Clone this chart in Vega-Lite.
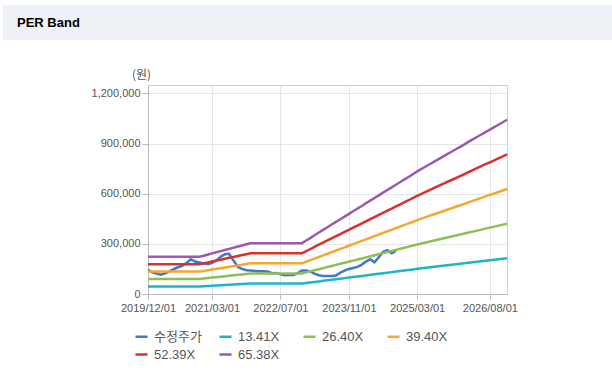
{
  "$schema": "https://vega.github.io/schema/vega-lite/v6.json",
  "padding": {"left": 3, "top": 5, "right": 0, "bottom": 0},
  "background": "white",
  "spacing": 27,
  "bounds": "full",
  "vconcat": [
    {
      "width": 609,
      "height": 35,
      "view": {"fill": "#eef1f6", "stroke": null},
      "data": {"values": [{"t": "PER Band"}]},
      "mark": {"type": "text", "align": "left", "baseline": "middle", "dx": 14, "font": "Liberation Sans", "fontSize": 13, "fontWeight": "bold", "color": "#000000"},
      "encoding": {
        "text": {"field": "t", "type": "nominal"},
        "x": {"datum": 0, "type": "quantitative", "scale": {"domain": [0, 1]}, "axis": null}
      }
    },
    {
      "spacing": 0,
      "bounds": "flush",
      "hconcat": [
        {
          "width": 145,
          "height": 1,
          "view": {"stroke": null},
          "data": {"values": []},
          "mark": "point"
        },
        {
          "width": 359,
          "height": 209,
          "view": {"stroke": "#cccccc"},
          "data": {"values": [
            {"d": "2019-12-01", "수정주가": 144000, "13_41X": 45600, "26_40X": 89800, "39_40X": 134000, "52_39X": 178100, "65_38X": 222300},
            {"d": "2020-01-01", "수정주가": 130000, "13_41X": 45600, "26_40X": 89800, "39_40X": 134000, "52_39X": 178100, "65_38X": 222300},
            {"d": "2020-02-01", "수정주가": 122000, "13_41X": 45600, "26_40X": 89800, "39_40X": 134000, "52_39X": 178100, "65_38X": 222300},
            {"d": "2020-03-01", "수정주가": 116000, "13_41X": 45600, "26_40X": 89800, "39_40X": 134000, "52_39X": 178100, "65_38X": 222300},
            {"d": "2020-04-01", "수정주가": 124000, "13_41X": 45600, "26_40X": 89800, "39_40X": 134000, "52_39X": 178100, "65_38X": 222300},
            {"d": "2020-05-01", "수정주가": 136000, "13_41X": 45600, "26_40X": 89800, "39_40X": 134000, "52_39X": 178100, "65_38X": 222300},
            {"d": "2020-06-01", "수정주가": 148000, "13_41X": 45600, "26_40X": 89800, "39_40X": 134000, "52_39X": 178100, "65_38X": 222300},
            {"d": "2020-07-01", "수정주가": 160000, "13_41X": 45600, "26_40X": 89800, "39_40X": 134000, "52_39X": 178100, "65_38X": 222300},
            {"d": "2020-08-01", "수정주가": 168000, "13_41X": 45600, "26_40X": 89800, "39_40X": 134000, "52_39X": 178100, "65_38X": 222300},
            {"d": "2020-09-01", "수정주가": 186000, "13_41X": 45600, "26_40X": 89800, "39_40X": 134000, "52_39X": 178100, "65_38X": 222300},
            {"d": "2020-10-01", "수정주가": 208000, "13_41X": 45600, "26_40X": 89800, "39_40X": 134000, "52_39X": 178100, "65_38X": 222300},
            {"d": "2020-11-01", "수정주가": 194000, "13_41X": 45600, "26_40X": 89800, "39_40X": 134000, "52_39X": 178100, "65_38X": 222300},
            {"d": "2020-12-01", "수정주가": 188000, "13_41X": 45600, "26_40X": 89800, "39_40X": 134000, "52_39X": 178100, "65_38X": 222300},
            {"d": "2021-01-01", "수정주가": 182000, "13_41X": 47000, "26_40X": 92500, "39_40X": 138100, "52_39X": 183600, "65_38X": 229100},
            {"d": "2021-02-01", "수정주가": 178000, "13_41X": 48400, "26_40X": 95300, "39_40X": 142200, "52_39X": 189000, "65_38X": 235900},
            {"d": "2021-03-01", "수정주가": 186000, "13_41X": 49800, "26_40X": 98000, "39_40X": 146300, "52_39X": 194500, "65_38X": 242800},
            {"d": "2021-04-01", "수정주가": 200000, "13_41X": 51200, "26_40X": 100800, "39_40X": 150400, "52_39X": 200000, "65_38X": 249600},
            {"d": "2021-05-01", "수정주가": 222000, "13_41X": 52600, "26_40X": 103500, "39_40X": 154500, "52_39X": 205400, "65_38X": 256400},
            {"d": "2021-06-01", "수정주가": 238000, "13_41X": 54000, "26_40X": 106300, "39_40X": 158600, "52_39X": 210900, "65_38X": 263200},
            {"d": "2021-07-01", "수정주가": 240000, "13_41X": 55400, "26_40X": 109000, "39_40X": 162700, "52_39X": 216300, "65_38X": 270000},
            {"d": "2021-08-01", "수정주가": 200000, "13_41X": 56800, "26_40X": 111800, "39_40X": 166800, "52_39X": 221800, "65_38X": 276800},
            {"d": "2021-09-01", "수정주가": 162000, "13_41X": 58200, "26_40X": 114500, "39_40X": 170900, "52_39X": 227300, "65_38X": 283600},
            {"d": "2021-10-01", "수정주가": 150000, "13_41X": 59600, "26_40X": 117300, "39_40X": 175000, "52_39X": 232700, "65_38X": 290400},
            {"d": "2021-11-01", "수정주가": 142000, "13_41X": 61000, "26_40X": 120000, "39_40X": 179100, "52_39X": 238200, "65_38X": 297200},
            {"d": "2021-12-01", "수정주가": 140000, "13_41X": 62400, "26_40X": 122800, "39_40X": 183200, "52_39X": 243600, "65_38X": 304000},
            {"d": "2022-01-01", "수정주가": 138000, "13_41X": 62400, "26_40X": 122800, "39_40X": 183200, "52_39X": 243600, "65_38X": 304000},
            {"d": "2022-02-01", "수정주가": 136000, "13_41X": 62400, "26_40X": 122800, "39_40X": 183200, "52_39X": 243600, "65_38X": 304000},
            {"d": "2022-03-01", "수정주가": 136000, "13_41X": 62400, "26_40X": 122800, "39_40X": 183200, "52_39X": 243600, "65_38X": 304000},
            {"d": "2022-04-01", "수정주가": 134000, "13_41X": 62400, "26_40X": 122800, "39_40X": 183200, "52_39X": 243600, "65_38X": 304000},
            {"d": "2022-05-01", "수정주가": 124000, "13_41X": 62400, "26_40X": 122800, "39_40X": 183200, "52_39X": 243600, "65_38X": 304000},
            {"d": "2022-06-01", "수정주가": 126000, "13_41X": 62400, "26_40X": 122800, "39_40X": 183200, "52_39X": 243600, "65_38X": 304000},
            {"d": "2022-07-01", "수정주가": 118000, "13_41X": 62400, "26_40X": 122800, "39_40X": 183200, "52_39X": 243600, "65_38X": 304000},
            {"d": "2022-08-01", "수정주가": 112000, "13_41X": 62400, "26_40X": 122800, "39_40X": 183200, "52_39X": 243600, "65_38X": 304000},
            {"d": "2022-09-01", "수정주가": 114000, "13_41X": 62400, "26_40X": 122800, "39_40X": 183200, "52_39X": 243600, "65_38X": 304000},
            {"d": "2022-10-01", "수정주가": 114000, "13_41X": 62400, "26_40X": 122800, "39_40X": 183200, "52_39X": 243600, "65_38X": 304000},
            {"d": "2022-11-01", "수정주가": 124000, "13_41X": 62400, "26_40X": 122800, "39_40X": 183200, "52_39X": 243600, "65_38X": 304000},
            {"d": "2022-12-01", "수정주가": 140000, "13_41X": 62400, "26_40X": 122800, "39_40X": 183200, "52_39X": 243600, "65_38X": 304000},
            {"d": "2023-01-01", "수정주가": 140000, "13_41X": 65600, "26_40X": 129200, "39_40X": 192800, "52_39X": 256300, "65_38X": 319900},
            {"d": "2023-02-01", "수정주가": 134000, "13_41X": 68900, "26_40X": 135600, "39_40X": 202400, "52_39X": 269100, "65_38X": 335800},
            {"d": "2023-03-01", "수정주가": 122000, "13_41X": 72100, "26_40X": 142000, "39_40X": 212000, "52_39X": 281900, "65_38X": 351700},
            {"d": "2023-04-01", "수정주가": 112000, "13_41X": 75400, "26_40X": 148400, "39_40X": 221500, "52_39X": 294600, "65_38X": 367600},
            {"d": "2023-05-01", "수정주가": 108000, "13_41X": 78700, "26_40X": 154900, "39_40X": 231100, "52_39X": 307300, "65_38X": 383500},
            {"d": "2023-06-01", "수정주가": 108000, "13_41X": 81900, "26_40X": 161300, "39_40X": 240700, "52_39X": 320100, "65_38X": 399400},
            {"d": "2023-07-01", "수정주가": 108000, "13_41X": 85200, "26_40X": 167700, "39_40X": 250300, "52_39X": 332800, "65_38X": 415300},
            {"d": "2023-08-01", "수정주가": 110000, "13_41X": 88500, "26_40X": 174100, "39_40X": 259900, "52_39X": 345600, "65_38X": 431200},
            {"d": "2023-09-01", "수정주가": 128000, "13_41X": 91700, "26_40X": 180500, "39_40X": 269500, "52_39X": 358300, "65_38X": 447100},
            {"d": "2023-10-01", "수정주가": 140000, "13_41X": 95000, "26_40X": 187000, "39_40X": 279000, "52_39X": 371000, "65_38X": 463000},
            {"d": "2023-11-01", "수정주가": 150000, "13_41X": 98200, "26_40X": 193400, "39_40X": 288600, "52_39X": 383800, "65_38X": 478900},
            {"d": "2023-12-01", "수정주가": 156000, "13_41X": 101500, "26_40X": 199800, "39_40X": 298200, "52_39X": 396500, "65_38X": 494800},
            {"d": "2024-01-01", "수정주가": 162000, "13_41X": 104800, "26_40X": 206200, "39_40X": 307800, "52_39X": 409300, "65_38X": 510700},
            {"d": "2024-02-01", "수정주가": 176000, "13_41X": 108000, "26_40X": 212700, "39_40X": 317400, "52_39X": 422000, "65_38X": 526600},
            {"d": "2024-03-01", "수정주가": 194000, "13_41X": 111300, "26_40X": 219100, "39_40X": 326900, "52_39X": 434700, "65_38X": 542500},
            {"d": "2024-04-01", "수정주가": 208000, "13_41X": 114500, "26_40X": 225500, "39_40X": 336500, "52_39X": 447500, "65_38X": 558400},
            {"d": "2024-05-01", "수정주가": 190000, "13_41X": 117800, "26_40X": 231900, "39_40X": 346100, "52_39X": 460200, "65_38X": 574300},
            {"d": "2024-06-01", "수정주가": 220000, "13_41X": 121100, "26_40X": 238300, "39_40X": 355700, "52_39X": 473000, "65_38X": 590200},
            {"d": "2024-07-01", "수정주가": 252000, "13_41X": 124300, "26_40X": 244800, "39_40X": 365300, "52_39X": 485700, "65_38X": 606100},
            {"d": "2024-08-01", "수정주가": 262000, "13_41X": 127600, "26_40X": 251200, "39_40X": 374900, "52_39X": 498400, "65_38X": 622000},
            {"d": "2024-09-01", "수정주가": 244000, "13_41X": 130800, "26_40X": 257600, "39_40X": 384400, "52_39X": 511200, "65_38X": 637900},
            {"d": "2024-10-01", "수정주가": 258000, "13_41X": 134100, "26_40X": 264000, "39_40X": 394000, "52_39X": 523900, "65_38X": 653800},
            {"d": "2024-11-01", "13_41X": 137400, "26_40X": 270400, "39_40X": 403600, "52_39X": 536700, "65_38X": 669800},
            {"d": "2024-12-01", "13_41X": 140600, "26_40X": 276900, "39_40X": 413200, "52_39X": 549400, "65_38X": 685600},
            {"d": "2025-01-01", "13_41X": 143900, "26_40X": 283300, "39_40X": 422800, "52_39X": 562200, "65_38X": 701500},
            {"d": "2025-02-01", "13_41X": 147100, "26_40X": 289700, "39_40X": 432300, "52_39X": 574900, "65_38X": 717400},
            {"d": "2025-03-01", "13_41X": 150400, "26_40X": 296100, "39_40X": 441900, "52_39X": 587600, "65_38X": 733300},
            {"d": "2025-04-01", "13_41X": 153400, "26_40X": 302000, "39_40X": 450800, "52_39X": 599400, "65_38X": 748000},
            {"d": "2025-05-01", "13_41X": 156400, "26_40X": 308000, "39_40X": 459600, "52_39X": 611200, "65_38X": 762700},
            {"d": "2025-06-01", "13_41X": 159400, "26_40X": 313900, "39_40X": 468500, "52_39X": 622900, "65_38X": 777400},
            {"d": "2025-07-01", "13_41X": 162500, "26_40X": 319800, "39_40X": 477300, "52_39X": 634700, "65_38X": 792100},
            {"d": "2025-08-01", "13_41X": 165500, "26_40X": 325800, "39_40X": 486200, "52_39X": 646500, "65_38X": 806800},
            {"d": "2025-09-01", "13_41X": 168500, "26_40X": 331700, "39_40X": 495100, "52_39X": 658300, "65_38X": 821500},
            {"d": "2025-10-01", "13_41X": 171500, "26_40X": 337700, "39_40X": 503900, "52_39X": 670100, "65_38X": 836200},
            {"d": "2025-11-01", "13_41X": 174500, "26_40X": 343600, "39_40X": 512800, "52_39X": 681800, "65_38X": 850900},
            {"d": "2025-12-01", "13_41X": 177500, "26_40X": 349500, "39_40X": 521600, "52_39X": 693600, "65_38X": 865600},
            {"d": "2026-01-01", "13_41X": 180600, "26_40X": 355400, "39_40X": 530500, "52_39X": 705400, "65_38X": 880300},
            {"d": "2026-02-01", "13_41X": 183600, "26_40X": 361400, "39_40X": 539300, "52_39X": 717200, "65_38X": 895000},
            {"d": "2026-03-01", "13_41X": 186600, "26_40X": 367300, "39_40X": 548200, "52_39X": 729000, "65_38X": 909700},
            {"d": "2026-04-01", "13_41X": 189600, "26_40X": 373200, "39_40X": 557000, "52_39X": 740700, "65_38X": 924300},
            {"d": "2026-05-01", "13_41X": 192600, "26_40X": 379200, "39_40X": 565900, "52_39X": 752500, "65_38X": 939100},
            {"d": "2026-06-01", "13_41X": 195600, "26_40X": 385100, "39_40X": 574800, "52_39X": 764300, "65_38X": 953800},
            {"d": "2026-07-01", "13_41X": 198600, "26_40X": 391100, "39_40X": 583600, "52_39X": 776100, "65_38X": 968500},
            {"d": "2026-08-01", "13_41X": 201700, "26_40X": 397000, "39_40X": 592500, "52_39X": 787800, "65_38X": 983200},
            {"d": "2026-09-01", "13_41X": 204700, "26_40X": 402900, "39_40X": 601300, "52_39X": 799600, "65_38X": 997800},
            {"d": "2026-10-01", "13_41X": 207700, "26_40X": 408900, "39_40X": 610200, "52_39X": 811400, "65_38X": 1012500},
            {"d": "2026-11-01", "13_41X": 210700, "26_40X": 414800, "39_40X": 619100, "52_39X": 823200, "65_38X": 1027300},
            {"d": "2026-12-01", "13_41X": 213700, "26_40X": 420700, "39_40X": 627900, "52_39X": 834900, "65_38X": 1042000}
          ]},
          "transform": [
            {"fold": ["수정주가", "13_41X", "26_40X", "39_40X", "52_39X", "65_38X"], "as": ["series", "value"]}
          ],
          "mark": {"type": "line", "strokeWidth": 2.5},
          "encoding": {
            "x": {
              "field": "d",
              "type": "temporal",
              "scale": {
                "type": "utc",
                "domain": [
                  {"year": 2019, "month": 12, "date": 1, "utc": true},
                  {"year": 2026, "month": 12, "date": 1, "utc": true}
                ]
              },
              "axis": {
                "values": [
                  {"year": 2019, "month": 12, "date": 1, "utc": true},
                  {"year": 2021, "month": 3, "date": 1, "utc": true},
                  {"year": 2022, "month": 7, "date": 1, "utc": true},
                  {"year": 2023, "month": 11, "date": 1, "utc": true},
                  {"year": 2025, "month": 3, "date": 1, "utc": true},
                  {"year": 2026, "month": 8, "date": 1, "utc": true}
                ],
                "labelExpr": "utcFormat(datum.value, '%Y/%m/%d')",
                "labelFlush": false,
                "labelOverlap": false,
                "labelFont": "Liberation Sans",
                "labelFontSize": 11,
                "labelColor": "#555555",
                "labelPadding": 3,
                "tickSize": 5,
                "tickColor": "#bbbbbb",
                "domainColor": "#bbbbbb",
                "grid": true,
                "gridColor": "#e6e6e6",
                "title": null
              }
            },
            "y": {
              "field": "value",
              "type": "quantitative",
              "scale": {"domain": [0, 1250000], "nice": false, "zero": true},
              "axis": {
                "values": [0, 300000, 600000, 900000, 1200000],
                "format": ",d",
                "labelFont": "Liberation Sans",
                "labelFontSize": 11,
                "labelColor": "#555555",
                "labelPadding": 2,
                "tickSize": 6,
                "tickColor": "#bbbbbb",
                "domainColor": "#bbbbbb",
                "grid": true,
                "gridColor": "#e6e6e6",
                "title": "(원)",
                "titleAngle": 0,
                "titleX": -7,
                "titleY": -11,
                "titleAlign": "center",
                "titleBaseline": "middle",
                "titleFont": "Noto Sans CJK KR",
                "titleFontSize": 12,
                "titleFontWeight": "normal",
                "titleColor": "#555555"
              }
            },
            "color": {
              "field": "series",
              "type": "nominal",
              "scale": {
                "domain": ["수정주가", "13_41X", "26_40X", "39_40X", "52_39X", "65_38X"],
                "range": ["#3f78d3", "#1db6c8", "#8dbf55", "#f5a830", "#d8302f", "#9b59b0"]
              },
              "legend": {
                "orient": "none",
                "legendX": 131,
                "legendY": 324,
                "direction": "horizontal",
                "columns": 4,
                "title": null,
                "padding": 0,
                "symbolType": "stroke",
                "symbolSize": 144,
                "symbolStrokeWidth": 2.5,
                "labelFont": "Liberation Sans, Noto Sans CJK KR",
                "labelFontSize": 13,
                "labelColor": "#555555",
                "labelOffset": 5,
                "labelLimit": 200,
                "columnPadding": 12,
                "rowPadding": 3,
                "gridAlign": "all",
                "labelExpr": "replace(datum.label, '_', '.')"
              }
            }
          }
        }
      ]
    }
  ]
}
